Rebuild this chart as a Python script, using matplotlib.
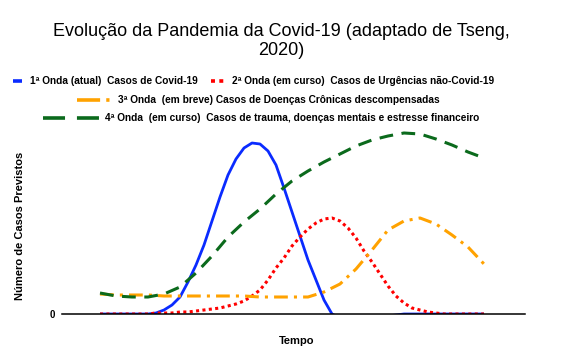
import matplotlib
matplotlib.use("Agg")
import matplotlib.pyplot as plt
from matplotlib.lines import Line2D

plt.rcParams["font.family"] = ["Liberation Sans", "DejaVu Sans"]

# DATA (time in arbitrary steps, expected cases in arbitrary units)
# waves 1 and 2 are sampled twice as often, they bend more sharply
tempo_fino = list(range(49))
onda1 = [0, 0, 0, 0, 0, 0, 0, 1, 4, 9, 17, 32, 49, 69, 93, 117, 139, 155, 166, 171,
         170, 163, 149, 126, 102, 78, 54, 34, 14, 0, -4, -5, -6, -6, -5, -3, -2, -1,
         0, 0, 0, 0, 0, 0, 0, 0, 0, 0, 0]
onda2 = [0, 0, 0, 0, 0, 0, 0, 1, 1, 1, 2, 2, 3, 4, 5, 6, 8, 10, 13, 18,
         24, 34, 46, 56, 68, 77, 85, 91, 95, 96, 93, 86, 76, 63, 52, 40, 28, 18,
         11, 6, 4, 2, 1, 0, 0, 0, 0, 0, 0]

tempo = list(range(0, 49, 2))
onda3 = [20, 19, 19, 19, 18, 18, 18, 18, 18, 18, 17, 17, 17, 17, 22,
         30, 45, 64, 84, 93, 96, 90, 79, 67, 50]
onda4 = [21, 18, 17, 17, 20, 27, 41, 58, 77, 92, 105, 120, 133, 143, 152,
         160, 168, 174, 178, 181, 180, 175, 169, 162, 156]

LABELS = ["1ª Onda (atual)  Casos de Covid-19",
          "2ª Onda (em curso)  Casos de Urgências não-Covid-19",
          "3ª Onda  (em breve) Casos de Doenças Crônicas descompensadas",
          "4ª Onda  (em curso)  Casos de trauma, doenças mentais e estresse financeiro"]

BLUE   = "#0a2bff"
RED    = "#ff0000"
ORANGE = "#ffa200"
GREEN  = "#0b6a1c"

W, H = 585, 363
fig = plt.figure(figsize=(W / 100, H / 100), dpi=100)


def fx(x):
    return x / W


def fy(y):
    return 1 - y / H


# axes: baseline at y=314px, x from 62 to 525px
ax = fig.add_axes([fx(62), fy(314), fx(525) - fx(62), fy(120) - fy(314)])

ax.plot(tempo_fino, onda1, color=BLUE, lw=2.0, solid_capstyle="butt", zorder=2)
ax.plot(tempo_fino, onda2, color=RED, lw=2.2, linestyle=(0, (1, 1.1)),
        dash_capstyle="butt", zorder=2)
ax.plot(tempo, onda3, color=ORANGE, lw=2.2, linestyle=(0, (4.5, 2.0, 1, 2.0)),
        dash_capstyle="butt", zorder=2)
ax.plot(tempo, onda4, color=GREEN, lw=2.2, linestyle=(0, (4.5, 2.8)),
        dash_capstyle="butt", zorder=2)

ax.set_xlim(-38 / 8, 425 / 8)
ax.set_ylim(0, 194)
for s in ["top", "right", "left"]:
    ax.spines[s].set_visible(False)
ax.spines["bottom"].set_linewidth(1.1)
ax.spines["bottom"].set_zorder(3)
ax.set_xticks([])
ax.set_yticks([0])
ax.set_yticklabels(["0"], fontsize=7, fontweight="bold")
ax.tick_params(axis="y", length=0, pad=5)

fig.text(fx(297), fy(341), "Tempo", ha="center", va="center",
         fontsize=8, fontweight="bold")
fig.text(fx(20), fy(226), "Número de Casos Previstos", ha="center", va="center",
         rotation=90, fontsize=8, fontweight="bold")

# title
fig.text(fx(281), fy(41), "Evolução da Pandemia da Covid-19 (adaptado de Tseng,\n2020)",
         ha="center", va="center", fontsize=13, linespacing=1.15)

# legend, drawn by hand to keep the irregular rows
def handle(x0, x1, y, color, ls):
    fig.add_artist(Line2D([fx(x0), fx(x1)], [fy(y), fy(y)], transform=fig.transFigure,
                          color=color, lw=2.6, linestyle=ls, dash_capstyle="butt",
                          solid_capstyle="butt"))


def label(x, y, s):
    fig.text(fx(x), fy(y), s, ha="left", va="center", fontsize=7.3, fontweight="bold")


handle(13, 22, 81, BLUE, "-")
label(30, 81, LABELS[0])
handle(211, 225, 81, RED, (0, (1.1, 1.2)))
label(232, 81, LABELS[1])
handle(77, 111, 100, ORANGE, (0, (6.4, 1.7, 0.9, 1.7)))
label(118, 100, LABELS[2])
handle(43, 99, 118, GREEN, (0, (6.1, 3.3)))
label(105, 118, LABELS[3])

plt.savefig("out.png", dpi=100)
plt.close()
